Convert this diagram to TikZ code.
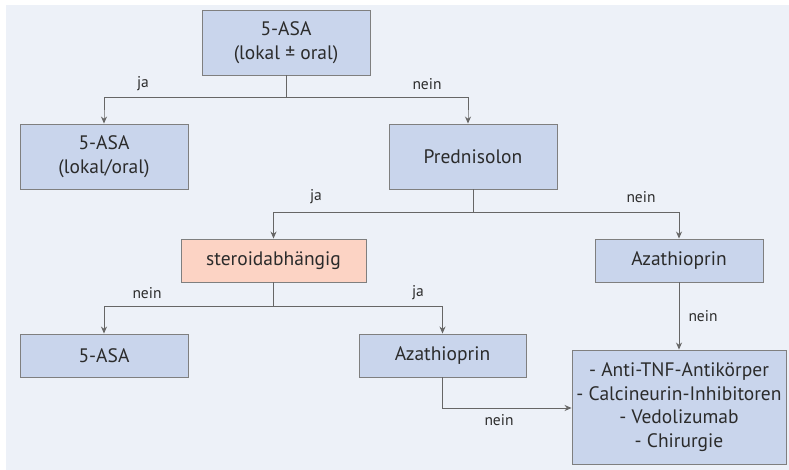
\documentclass[tikz,border=0pt]{standalone}
\usepackage{fontspec}
\setmainfont{PT Sans}
\usetikzlibrary{arrows.meta}
\definecolor{panel}{HTML}{EDF1F8}
\definecolor{boxfill}{HTML}{C9D5EC}
\definecolor{salmon}{HTML}{FCD3C4}
\definecolor{edge}{HTML}{7F7F7F}
\definecolor{conn}{HTML}{666666}
\definecolor{txt}{HTML}{2B2B2B}
\begin{document}
\begin{tikzpicture}[x=1pt,y=-1pt,
  box/.style={draw=edge,fill=boxfill,line width=0.9pt,inner sep=0pt,text=txt,font=\fontsize{19.5}{23.5}\selectfont,align=center},
  conn/.style={draw=conn,line width=0.9pt},
  arr/.style={conn,-{Stealth[length=7pt,width=6pt]}},
  lab/.style={text=txt,font=\fontsize{15.5}{17}\selectfont,inner sep=0pt}]
\useasboundingbox (0,0) rectangle (789,470);
\fill[panel] (6,5) rectangle (789,470);
% boxes
\node[box,minimum width=168pt,minimum height=65pt] (top) at (286,42.5) {5-ASA\\(lokal ± oral)};
\node[box,minimum width=168pt,minimum height=65pt] (la) at (104,156.5) {5-ASA\\(lokal/oral)};
\node[box,minimum width=168pt,minimum height=65pt] (pred) at (473,156.5) {Prednisolon};
\node[box,fill=salmon,minimum width=185pt,minimum height=43pt] (ster) at (273.5,260.5) {steroidabhängig};
\node[box,minimum width=168pt,minimum height=43pt] (aza1) at (679,260.5) {Azathioprin};
\node[box,minimum width=168pt,minimum height=43pt] (asa2) at (104,355.5) {5-ASA};
\node[box,minimum width=167pt,minimum height=43pt] (aza2) at (442.5,355.5) {Azathioprin};
\node[box,minimum width=214pt,minimum height=114pt] (big) at (679,407) {- Anti-TNF-Antikörper\\- Calcineurin-Inhibitoren\\- Vedolizumab\\- Chirurgie};
% coordinates
\coordinate (j1) at (286,97);
\coordinate (j2) at (473,212);
\coordinate (j3) at (273.5,306);
% connectors
\draw[conn] (top.south) -- (j1);
\draw[arr] (j1) -| (104,122) -- (la.north);
\draw[arr] (j1) -| (468,122) -- (pred.north -| 468,0);
\draw[conn] (pred.south) -- (j2);
\draw[arr] (j2) -| (ster.north);
\draw[arr] (j2) -| (aza1.north);
\draw[conn] (ster.south) -- (j3);
\draw[arr] (j3) -| (asa2.north);
\draw[arr] (j3) -| (aza2.north);
\draw[arr] (aza1.south) -- (big.north);
\draw[arr] (aza2.south) |- (big.west |- 0,408);
% labels
\node[lab] at (143,84) {ja};
\node[lab] at (427,84) {nein};
\node[lab] at (316,197) {ja};
\node[lab] at (641,197) {nein};
\node[lab] at (147,293) {nein};
\node[lab] at (418,293) {ja};
\node[lab] at (703,316) {nein};
\node[lab] at (499,420) {nein};
\end{tikzpicture}
\end{document}
